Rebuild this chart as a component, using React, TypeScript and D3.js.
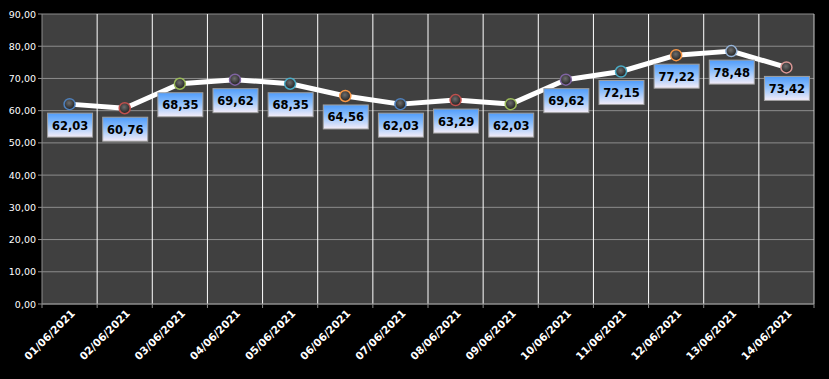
import React from "react";
import * as d3 from "d3";

const categories = ["01/06/2021","02/06/2021","03/06/2021","04/06/2021","05/06/2021","06/06/2021","07/06/2021","08/06/2021","09/06/2021","10/06/2021","11/06/2021","12/06/2021","13/06/2021","14/06/2021"];
const values = [62.03, 60.76, 68.35, 69.62, 68.35, 64.56, 62.03, 63.29, 62.03, 69.62, 72.15, 77.22, 78.48, 73.42];
const yTicks = [0, 10, 20, 30, 40, 50, 60, 70, 80, 90];
const markerColors = ["#4f81bd","#c0504d","#9bbb59","#8064a2","#4bacc6","#f79646","#4f81bd","#c0504d","#9bbb59","#8064a2","#4bacc6","#f79646","#95b3d7","#d99694"];

const W = 829, H = 379;
const L = 42, R = 814, T = 14, B = 304;

const fmt = (v: number) => v.toFixed(2).replace(".", ",");

export default function App() {
  const x = d3.scaleBand<string>().domain(categories).range([L, R]);
  const y = d3.scaleLinear().domain([0, 90]).range([B, T]);
  const line = d3.line<number>().x((_, i) => x(categories[i])! + x.bandwidth() / 2).y(d => y(d));
  const bounds = categories.map(c => x(c)!).concat([R]);
  return (
    <svg width={W} height={H} style={{ position: "absolute", left: 0, top: 0, background: "#000" }}>
      <defs>
        <linearGradient id="lblgrad" gradientUnits="objectBoundingBox" x1="0%" y1="0%" x2="0%" y2="100%">
          <stop offset="0%" stopColor="#4f9cfb" />
          <stop offset="45%" stopColor="#8fc0fb" />
          <stop offset="100%" stopColor="#f5edf8" />
        </linearGradient>
        <radialGradient id="mkgrad" cx="45%" cy="40%" r="60%">
          <stop offset="0%" stopColor="#6e6e6e" />
          <stop offset="100%" stopColor="#1e1e1e" />
        </radialGradient>
      </defs>
      <rect x={0} y={0} width={W} height={H} fill="#000" />
      <rect x={L} y={T} width={R - L} height={B - T} fill="#404040" />
      {yTicks.map(t => (
        <g key={t}>
          <line x1={L - 4} x2={R} y1={y(t)} y2={y(t)} stroke="#8c8c8c" strokeWidth={1} />
          <text x={36} y={y(t) + 3.5} textAnchor="end" fill="#fff" fontFamily="DejaVu Sans" fontSize={9.5}>{fmt(t)}</text>
        </g>
      ))}
      {bounds.map((bx, i) => (
        <g key={i}>
          {i > 0 && i < bounds.length - 1 && <line x1={bx} x2={bx} y1={T} y2={B} stroke="#ffffff" strokeWidth={1} />}
          <line x1={bx} x2={bx} y1={B} y2={B + 4} stroke="#8c8c8c" strokeWidth={1} />
        </g>
      ))}
      <line x1={R} x2={R} y1={T} y2={B} stroke="#c8c8c8" strokeWidth={1} />
      <line x1={L} x2={L} y1={T} y2={B} stroke="#8c8c8c" strokeWidth={1} />
      <line x1={L} x2={R} y1={B} y2={B} stroke="#8c8c8c" strokeWidth={1} />
      <path d={line(values) || ""} fill="none" stroke="#fff" strokeWidth={5} strokeLinejoin="round" />
      {values.map((v, i) => {
        const cx = x(categories[i])! + x.bandwidth() / 2;
        const cy = y(v);
        return (
          <g key={i}>
            <circle cx={cx} cy={cy} r={5.5} fill="url(#mkgrad)" stroke={markerColors[i]} strokeWidth={1.5} />
            <rect x={cx - 22} y={cy + 9} width={45} height={24} fill="url(#lblgrad)" stroke="#a0a0a0" strokeWidth={1} />
            <text x={cx + 0.5} y={cy + 25.5} textAnchor="middle" fill="#000" fontFamily="DejaVu Sans" fontWeight="bold" fontSize={11.5}>{fmt(v)}</text>
          </g>
        );
      })}
      {categories.map((c, i) => {
        const cx = x(c)! + x.bandwidth() / 2;
        return (
          <text key={c} transform={`translate(${cx + 6},${314}) rotate(-45)`} textAnchor="end" fill="#fff" fontFamily="DejaVu Sans" fontWeight="bold" fontSize={10.5}>{c}</text>
        );
      })}
    </svg>
  );
}
